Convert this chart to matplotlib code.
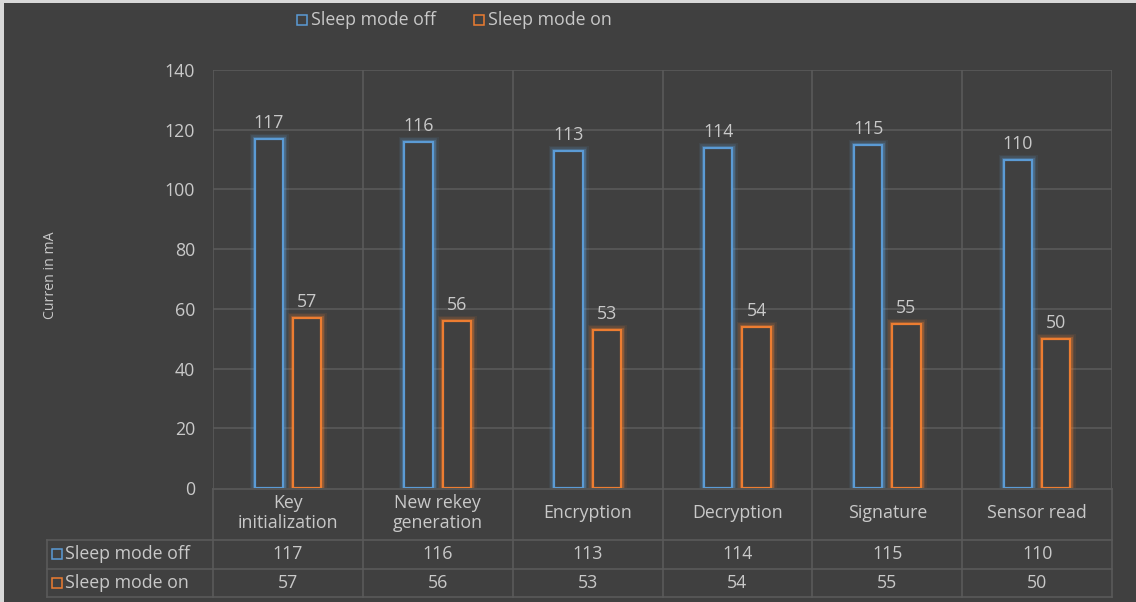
import matplotlib
matplotlib.use("Agg")
import matplotlib.pyplot as plt
import matplotlib.patheffects as pe
from matplotlib.patches import Rectangle
from matplotlib.lines import Line2D

categories = ["Key\ninitialization", "New rekey\ngeneration", "Encryption",
              "Decryption", "Signature", "Sensor read"]
series_names = ["Sleep mode off", "Sleep mode on"]
sleep_off = [117, 116, 113, 114, 115, 110]
sleep_on = [57, 56, 53, 54, 55, 50]
y_ticks = [0, 20, 40, 60, 80, 100, 120, 140]
y_label = "Curren in mA"

BG = "#404040"
GRID = "#5a5a5a"
TXT = "#c9c9c9"
BLUE = "#5b9bd5"
ORANGE = "#ed7d31"
FONT = "Open Sans"
FS = 12.8

W, H = 1136, 602
fig = plt.figure(figsize=(W / 100, H / 100), dpi=100, facecolor="#d9d9d9")


def fx(px):
    return px / W


def fy(py):
    return 1 - py / H


# dark chart area inside a thin light frame
fig.patches.append(Rectangle((fx(4), 0), 1, fy(3), transform=fig.transFigure,
                             facecolor=BG, edgecolor="none", zorder=-5))

left, right, top, bottom = 213, 1112, 70, 488
ax = fig.add_axes([fx(left), fy(bottom), fx(right - left), (bottom - top) / H])
ax.set_zorder(2)
ax.set_facecolor(BG)
ax.patch.set_alpha(0)

n = len(categories)
ax.set_xlim(0, n)
ax.set_ylim(0, 140)
ax.set_yticks(y_ticks)
ax.tick_params(axis="y", length=0, pad=13, labelcolor=TXT, labelsize=FS)
for lab in ax.get_yticklabels():
    lab.set_fontfamily(FONT)
ax.set_xticks([])
for s in ax.spines.values():
    s.set_visible(False)
for t in y_ticks[1:]:
    ax.axhline(t, color=GRID, lw=1.2, zorder=1)
for i in range(n + 1):
    ax.axvline(i, color=GRID, lw=1.2, zorder=1)

bw = 0.189
off = 0.128
glow = lambda c: [pe.Stroke(linewidth=8, foreground=c, alpha=0.08),
                  pe.Stroke(linewidth=5.5, foreground=c, alpha=0.16),
                  pe.Stroke(linewidth=3.5, foreground=c, alpha=0.3),
                  pe.Normal()]
for vals, sign, col in [(sleep_off, -1, BLUE), (sleep_on, 1, ORANGE)]:
    xs = [i + 0.5 + sign * off for i in range(n)]
    bars = ax.bar(xs, vals, width=bw, facecolor=BG, edgecolor=col,
                  linewidth=1.6, zorder=3)
    for b in bars:
        b.set_path_effects(glow(col))
    for x, v in zip(xs, vals):
        ax.annotate(str(v), (x, v), xytext=(0, 5), textcoords="offset points",
                    ha="center", va="bottom", color=TXT, fontsize=FS,
                    fontfamily=FONT)

fig.text(fx(50), fy(275), y_label, rotation=90, ha="center", va="center",
         color=TXT, fontsize=10.2, fontfamily=FONT)

# data table under the plot
col_edges = [left + (right - left) * i / n for i in range(n + 1)]
row_edges = [489, 539.5, 568.5, 597]
lab_left = 47


def hline(y, x0, x1):
    fig.lines.append(Line2D([fx(x0), fx(x1)], [fy(y), fy(y)], color=GRID,
                            lw=1.2, transform=fig.transFigure))


def vline(x, y0, y1):
    fig.lines.append(Line2D([fx(x), fx(x)], [fy(y0), fy(y1)], color=GRID,
                            lw=1.2, transform=fig.transFigure))


hline(row_edges[0], left, right)
for y in row_edges[1:]:
    hline(y, lab_left, right)
for x in col_edges:
    vline(x, row_edges[0], row_edges[-1])
vline(lab_left, row_edges[1], row_edges[-1])

for i, c in enumerate(categories):
    cx = (col_edges[i] + col_edges[i + 1]) / 2
    fig.text(fx(cx), fy((row_edges[0] + row_edges[1]) / 2 - 1), c,
             ha="center", va="center", color=TXT, fontsize=FS,
             fontfamily=FONT, linespacing=1.15)
    for r, vals in enumerate([sleep_off, sleep_on]):
        cy = (row_edges[r + 1] + row_edges[r + 2]) / 2
        fig.text(fx(cx), fy(cy), str(vals[i]), ha="center", va="center",
                 color=TXT, fontsize=FS, fontfamily=FONT)

for r, (name, col) in enumerate(zip(series_names, [BLUE, ORANGE])):
    cy = (row_edges[r + 1] + row_edges[r + 2]) / 2
    fig.patches.append(Rectangle((fx(52), fy(cy + 5)), fx(10), 10 / H,
                                 transform=fig.transFigure, facecolor="none",
                                 edgecolor=col, lw=1.1))
    fig.text(fx(65), fy(cy), name, ha="left", va="center", color=TXT,
             fontsize=FS, fontfamily=FONT)

# legend across the top
leg_items = [(297, series_names[0], BLUE), (474, series_names[1], ORANGE)]
for x0, name, col in leg_items:
    fig.patches.append(Rectangle((fx(x0), fy(25)), fx(10), 10 / H,
                                 transform=fig.transFigure, facecolor="none",
                                 edgecolor=col, lw=1.1))
    fig.text(fx(x0 + 14), fy(20), name, ha="left", va="center", color=TXT,
             fontsize=FS, fontfamily=FONT)

fig.savefig("out.png", dpi=100, facecolor=fig.get_facecolor())
